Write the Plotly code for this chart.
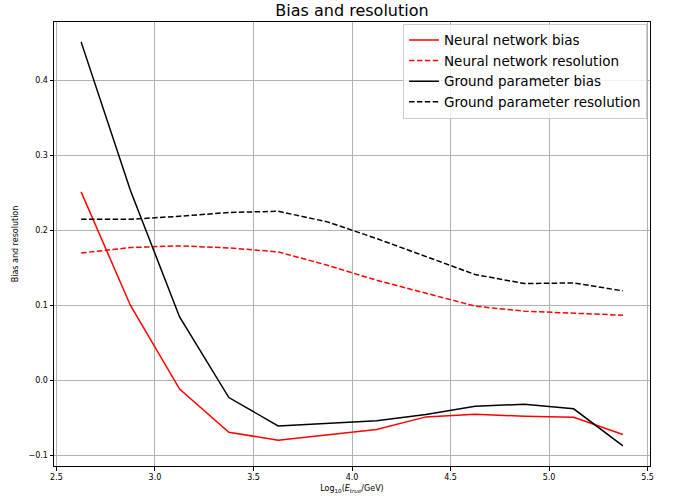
import plotly.graph_objects as go

energy = [2.625, 2.875, 3.125, 3.375, 3.625, 3.875, 4.125, 4.375, 4.625, 4.875, 5.125, 5.375]
nn_bias = [0.2515, 0.1004, -0.0115, -0.069, -0.0796, -0.0725, -0.0654, -0.0485, -0.045, -0.0476, -0.049, -0.072]
nn_res = [0.170, 0.1773, 0.1795, 0.1768, 0.1715, 0.1537, 0.1337, 0.1168, 0.0991, 0.0924, 0.0901, 0.0871]
gp_bias = [0.4515, 0.2537, 0.0848, -0.0227, -0.0605, -0.0574, -0.0538, -0.0453, -0.0343, -0.0316, -0.0378, -0.0872]
gp_res = [0.215, 0.215, 0.219, 0.224, 0.2257, 0.2115, 0.1893, 0.1648, 0.1413, 0.1293, 0.1301, 0.1195]

x_ticks = [2.5, 3.0, 3.5, 4.0, 4.5, 5.0, 5.5]
y_ticks = [-0.1, 0.0, 0.1, 0.2, 0.3, 0.4]

FONT = "DejaVu Sans"
dash = "5.5px,2.4px"

W, H = 680, 499

fig = go.Figure()
fig.add_trace(go.Scatter(x=energy, y=nn_bias, mode="lines", name="Neural network bias",
                         line=dict(color="red", width=1.5)))
fig.add_trace(go.Scatter(x=energy, y=nn_res, mode="lines", name="Neural network resolution",
                         line=dict(color="red", width=1.5, dash=dash)))
fig.add_trace(go.Scatter(x=energy, y=gp_bias, mode="lines", name="Ground parameter bias",
                         line=dict(color="black", width=1.5)))
fig.add_trace(go.Scatter(x=energy, y=gp_res, mode="lines", name="Ground parameter resolution",
                         line=dict(color="black", width=1.5, dash=dash)))

axis_common = dict(showline=True, linecolor="black", linewidth=1, mirror=True,
                   ticks="outside", ticklen=3.5, tickwidth=0.8, tickcolor="black",
                   showgrid=True, gridcolor="#b0b0b0", gridwidth=0.8, zeroline=False,
                   automargin=False,
                   tickfont=dict(family=FONT, size=8, color="black"))

fig.update_layout(
    width=W, height=H,
    paper_bgcolor="white", plot_bgcolor="white",
    margin=dict(l=54, r=30, t=22, b=33),
    font=dict(family=FONT, color="black"),
    title=dict(text="Bias and resolution", x=0.5, xref="paper", xanchor="center",
               y=1 - 10.5 / H, yanchor="middle", yref="container",
               font=dict(family=FONT, size=16, color="black")),
    xaxis=dict(range=[2.4875, 5.5125], tickvals=x_ticks, tickformat=".1f",
               title=dict(text="Log<sub>10</sub>(<i>E<sub>true</sub></i>/GeV)",
                          font=dict(family=FONT, size=8), standoff=4),
               **axis_common),
    yaxis=dict(range=[-0.114, 0.478], tickvals=y_ticks, tickformat=".1f",
               title=dict(text="Bias and resolution", font=dict(family=FONT, size=8), standoff=8),
               **axis_common),
    legend=dict(x=0.995, xanchor="right", y=0.996, yanchor="top",
                bgcolor="rgba(255,255,255,0.8)", bordercolor="#cccccc", borderwidth=1,
                font=dict(family=FONT, size=13.5, color="black"),
                tracegroupgap=0, itemwidth=30),
    showlegend=True,
)

# remove the browser's default 8px page margin so the figure sits at the window's corner
fig.write_html("out.html",
               config={"displayModeBar": False},
               post_script="document.body.style.margin='0';document.body.style.padding='0';")
